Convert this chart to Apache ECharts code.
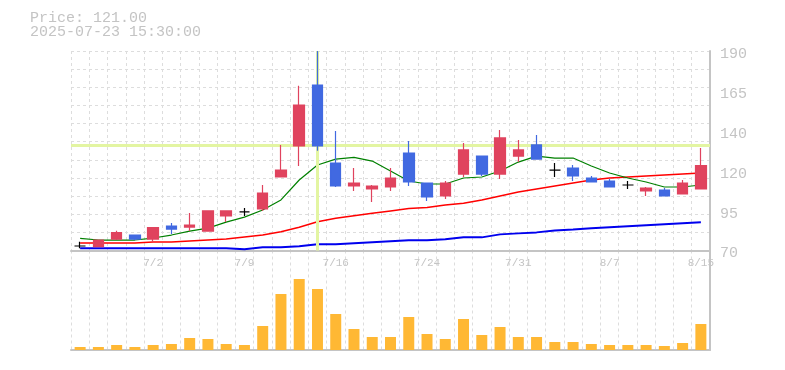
<!DOCTYPE html>
<html><head><meta charset="utf-8">
<script src="https://cdn.jsdelivr.net/npm/echarts@6/dist/echarts.min.js"></script>
<style>html,body{margin:0;padding:0;background:#fff}#c{width:785px;height:370px}</style>
</head><body><div id="c"></div>
<script>
const headerLines = ['Price: 121.00', '2025-07-23 15:30:00'];
const dates = ['6/26','6/27','6/30','7/1','7/2','7/3','7/4','7/7','7/8','7/9','7/10','7/11','7/14','7/15','7/16','7/17','7/18','7/22','7/23','7/24','7/25','7/28','7/29','7/30','7/31','8/1','8/4','8/5','8/6','8/7','8/8','8/12','8/13','8/14','8/15'];
const priceTickLabels = ['70','95','120','140','165','190'];
const opens  = [72.7,72.3,76.9,79.3,76.9,84.7,84.1,81.7,90.8,93.2,95.0,114.2,132.9,169.5,122.6,108.8,107.0,108.2,128.6,110.6,102.8,116.0,126.8,116.0,126.8,133.5,118.4,119.6,113.6,111.8,109.4,105.8,106.4,104.0,107.0];
const closes = [72.7,76.3,80.7,76.9,83.7,82.9,85.3,93.8,93.8,93.2,104.6,118.4,157.5,132.9,108.8,110.6,108.8,113.6,111.2,102.2,110.6,130.5,116.0,137.7,130.5,125.0,118.4,114.8,111.2,108.2,109.4,107.6,102.8,110.6,121.0];
const lows   = [71.3,72.3,76.3,76.1,75.1,79.9,81.7,81.7,87.1,90.8,93.8,114.2,120.8,130.0,108.2,105.8,99.2,105.8,108.8,99.8,101.0,114.2,114.8,113.0,123.2,125.0,114.2,111.8,111.2,108.2,107.0,102.8,102.8,104.0,107.0];
const highs  = [75.3,76.3,81.9,79.3,83.7,86.5,92.6,93.8,93.8,95.6,109.4,133.5,169.1,190.0,141.9,119.6,109.4,119.6,135.9,110.6,111.8,134.7,126.8,142.5,136.5,139.5,122.6,121.4,114.8,113.0,111.8,108.2,107.6,112.4,131.6];
const maShort = [77.3,76.3,76.3,76.3,77.5,79.3,81.7,83.5,87.1,90.1,94.4,100.4,112.4,121.4,125.0,126.0,123.8,117.8,111.8,110.0,110.0,113.6,114.2,117.8,123.2,126.8,125.6,125.6,120.8,116.6,113.6,111.2,108.2,108.2,109.4];
const maMid   = [74.5,74.5,74.5,74.5,75.1,75.1,75.7,76.3,76.9,78.1,79.3,81.3,84.0,87.3,89.4,90.9,92.4,93.8,95.2,95.8,97.4,98.4,100.4,102.8,105.2,107.0,108.8,110.6,112.4,113.6,114.2,114.8,115.4,116.0,116.6];
const maLong  = [71.3,71.3,71.3,71.3,71.3,71.3,71.3,71.3,71.3,70.7,71.9,71.9,72.5,73.7,73.7,74.3,74.9,75.5,76.1,76.1,76.7,77.9,77.9,79.7,80.3,80.9,82.1,82.7,83.4,84.0,84.6,85.2,85.8,86.4,87.0];
const volumes = [3000,3000,5000,3000,5000,6000,12000,11000,6000,5000,24000,56000,71000,61000,36000,21000,13000,13000,33000,16000,11000,31000,15000,23000,13000,13000,8000,8000,6000,5000,5000,5000,4000,7000,26000];
const crossPrice = 133.2;
const crossDate = '7/15';

const candleData = dates.map((d, i) => [opens[i], closes[i], lows[i], highs[i]]);
const FONT = 'Liberation Mono';
const GRIDC = '#dddddd';
const AXC = '#c4c4c4';
const TXTC = '#c4c4c4';

const chart = echarts.init(document.getElementById('c'), null, {renderer: 'canvas'});
chart.setOption({
  animation: false,
  backgroundColor: '#ffffff',
  title: {
    text: headerLines.join('\n'),
    left: 30, top: 11, padding: 0,
    textStyle: {fontFamily: FONT, fontSize: 15, fontWeight: 'normal', color: TXTC, lineHeight: 14}
  },
  grid: [
    {left: 71, right: 75, top: 51, height: 199.5},
    {left: 71, right: 75, top: 250.5, height: 99.5}
  ],
  xAxis: [
    {type: 'category', gridIndex: 0, data: dates, boundaryGap: true,
     axisLine: {show: true, lineStyle: {color: AXC, width: 2}},
     axisTick: {show: false},
     axisLabel: {interval: (idx) => (idx + 1) % 5 === 0, color: TXTC, fontFamily: FONT, fontSize: 11, margin: 7},
     splitLine: {show: true, interval: 0, lineStyle: {color: GRIDC, type: [3, 3], width: 1}}},
    {type: 'category', gridIndex: 1, data: dates, boundaryGap: true,
     axisLine: {show: true, lineStyle: {color: AXC, width: 2}},
     axisTick: {show: false}, axisLabel: {show: false},
     splitLine: {show: true, interval: 0, lineStyle: {color: GRIDC, type: [3, 3], width: 1}}}
  ],
  yAxis: [
    {type: 'value', gridIndex: 0, position: 'right', min: 70, max: 190, interval: 24,
     axisLine: {show: true, lineStyle: {color: AXC, width: 2}},
     axisTick: {show: false}, splitLine: {show: false},
     axisLabel: {color: TXTC, fontFamily: FONT, fontSize: 15, margin: 10,
       formatter: (v) => '{p|' + priceTickLabels[Math.round((v - 70) / 24)] + '}',
       rich: {p: {color: TXTC, fontFamily: FONT, fontSize: 15, padding: [6, 0, 0, 0]}}}},
    {type: 'value', gridIndex: 0, position: 'left', min: 0, max: 11, interval: 1,
     axisLine: {show: false}, axisTick: {show: false}, axisLabel: {show: false},
     splitLine: {show: true, lineStyle: {color: GRIDC, type: [3, 3], width: 1}}},
    {type: 'value', gridIndex: 1, position: 'right', min: 0, max: 99500,
     axisLine: {show: true, lineStyle: {color: AXC, width: 2}},
     axisTick: {show: false}, axisLabel: {show: false}, splitLine: {show: false}}
  ],
  series: [
    {type: 'line', xAxisIndex: 0, yAxisIndex: 0, data: [], z: 1, silent: true,
     markLine: {silent: true, symbol: 'none', label: {show: false},
       lineStyle: {color: '#e3f5a2', width: 3, type: 'solid'},
       data: [{yAxis: crossPrice}, {xAxis: crossDate}]}},
    {type: 'line', name: 'MA75', xAxisIndex: 0, yAxisIndex: 0, data: maLong, z: 2,
     symbol: 'none', lineStyle: {color: '#0000ee', width: 2}},
    {type: 'line', name: 'MA25', xAxisIndex: 0, yAxisIndex: 0, data: maMid, z: 2,
     symbol: 'none', lineStyle: {color: '#ff0000', width: 1.5}},
    {type: 'line', name: 'MA5', xAxisIndex: 0, yAxisIndex: 0, data: maShort, z: 2,
     symbol: 'none', lineStyle: {color: '#008000', width: 1.2}},
    {type: 'candlestick', xAxisIndex: 0, yAxisIndex: 0, data: candleData, z: 5, barWidth: 11,
     itemStyle: {color: '#e0435e', color0: '#4169e1', borderColor: '#e0435e', borderColor0: '#4169e1',
       borderColorDoji: '#000000', borderWidth: 1.2}},
    {type: 'bar', xAxisIndex: 1, yAxisIndex: 2, data: volumes, barWidth: 11,
     itemStyle: {color: '#ffb834'}}
  ]
});
</script></body></html>
